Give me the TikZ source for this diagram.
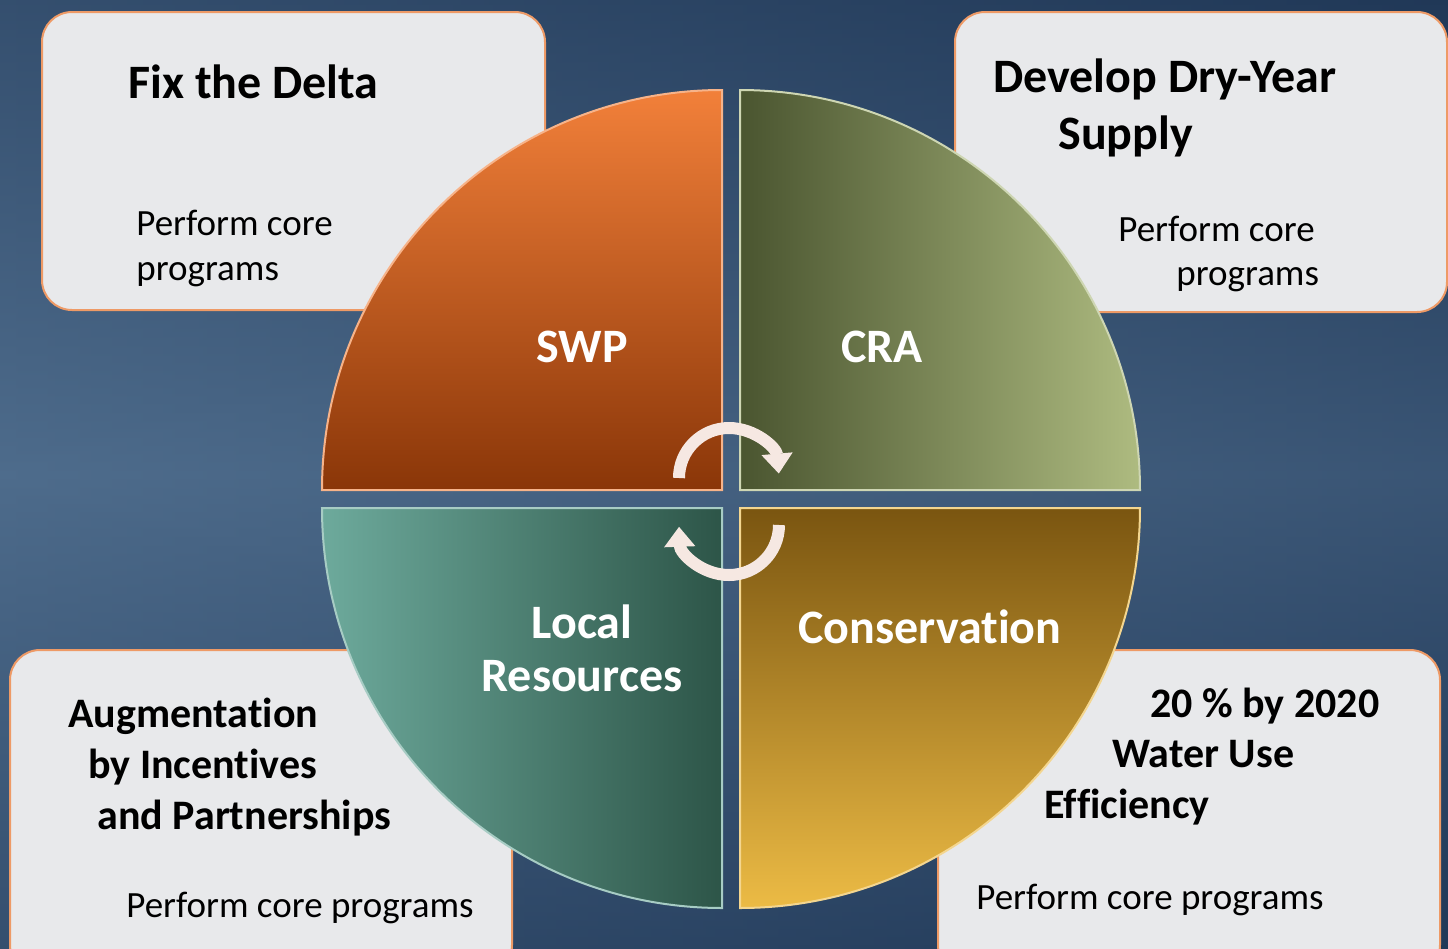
\documentclass[tikz,border=0pt]{standalone}
\usepackage{fontspec}
\setmainfont{Carlito}[Ligatures=NoCommon]
\usetikzlibrary{arrows.meta}

\definecolor{bgdark}{HTML}{1C3352}
\definecolor{bglight}{HTML}{4E6C8C}
\definecolor{cardgray}{HTML}{E8E9EB}
\definecolor{cardedge}{HTML}{EE9A66}
\definecolor{swptop}{HTML}{F2803A}
\definecolor{swpbot}{HTML}{8A3608}
\definecolor{craleft}{HTML}{4A5530}
\definecolor{craright}{HTML}{AEBB80}
\definecolor{locleft}{HTML}{6DAA9C}
\definecolor{locright}{HTML}{2D5548}
\definecolor{constop}{HTML}{7A5510}
\definecolor{consbot}{HTML}{ECBB45}
\definecolor{arrowpink}{HTML}{F6E8E2}

\tikzset{
  card/.style={fill=cardgray, draw=cardedge, line width=1pt, rounded corners=15pt},
  head/.style={font=\bfseries\fontsize{21}{25}\selectfont, inner sep=0pt, anchor=base west},
  bighead/.style={head, font=\bfseries\fontsize{24}{28}\selectfont},
  body/.style={font=\fontsize{18.5}{22}\selectfont, inner sep=0pt, anchor=base west},
  quadtext/.style={font=\bfseries\fontsize{24}{26.5}\selectfont, text=white, align=center, inner sep=0pt},
  cycarrow/.style={line width=6pt, draw=arrowpink, -{Triangle[length=10pt,width=15pt]}}
}

\begin{document}
\begin{tikzpicture}[x=0.5pt, y=-0.5pt]
    % background
    \useasboundingbox (0,0) rectangle (1448,949);
    \shade [left color=bglight, right color=bgdark!80!bglight] (0,0) rectangle (1448,949);
    \shade [top color=bgdark, bottom color=bgdark, middle color=bglight, opacity=0.5] (0,0) rectangle (1448,949);

    % cards
    \draw [card] (42,12) rectangle (545,310);
    \draw [card] (955,12) rectangle (1447,312);
    \draw [card] (10,650) rectangle (512,975);
    \draw [card] (938,650) rectangle (1440,975);

    % quarters
    \shade [top color=swptop, bottom color=swpbot, draw=swptop!60!white, line width=1pt]
        (722,490) -- (322,490) arc [start angle=180, end angle=270, radius=400] -- cycle;
    \shade [left color=craleft, right color=craright, draw=craright!60!white, line width=1pt]
        (740,490) -- (740,90) arc [start angle=270, end angle=360, radius=400] -- cycle;
    \shade [left color=locleft, right color=locright, draw=locleft!60!white, line width=1pt]
        (722,508) -- (322,508) arc [start angle=180, end angle=90, radius=400] -- cycle;
    \shade [top color=constop, bottom color=consbot, draw=consbot!60!white, line width=1pt]
        (740,508) -- (1140,508) arc [start angle=0, end angle=90, radius=400] -- cycle;

    % cycle arrows
    \coordinate (hub1) at (729,478);
    \coordinate (hub2) at (729,525);
    \draw [cycarrow] ([shift={(-50,0)}]hub1) arc [start angle=180, end angle=355, radius=50];
    \draw [cycarrow] ([shift={(50,0)}]hub2) arc [start angle=0, end angle=178, radius=50];

    % quarter labels
    \node [quadtext] (swp) at (582,347) {SWP};
    \node [quadtext] (cra) at (882,347) {CRA};
    \node [quadtext] (local) at (582,648) {Local\\Resources};
    \node [quadtext] (cons) at (930,627) {Conservation};

    % top left card
    \node [bighead] (delta) at (128,98) {Fix the Delta};
    \node [body] (tlcore) at (136,235) {Perform core};
    \node [body] (tlprog) at (136,280) {programs};

    % top right card
    \node [bighead] (dry) at (993,92) {Develop Dry-Year};
    \node [bighead] (supply) at (1058,149) {Supply};
    \node [body] (trcore) at (1118,241) {Perform core};
    \node [body] (trprog) at (1176,285) {programs};

    % bottom left card
    \node [head] (aug) at (68,727) {Augmentation};
    \node [head] (incent) at (88,778) {by Incentives};
    \node [head] (partner) at (97,829) {and Partnerships};
    \node [body] (blcore) at (126,917) {Perform core programs};

    % bottom right card
    \node [head] (goal) at (1150,717) {20 \% by 2020};
    \node [head] (water) at (1112,767) {Water Use};
    \node [head] (effic) at (1044,818) {Efficiency};
    \node [body] (brcore) at (976,909) {Perform core programs};
\end{tikzpicture}
\end{document}
